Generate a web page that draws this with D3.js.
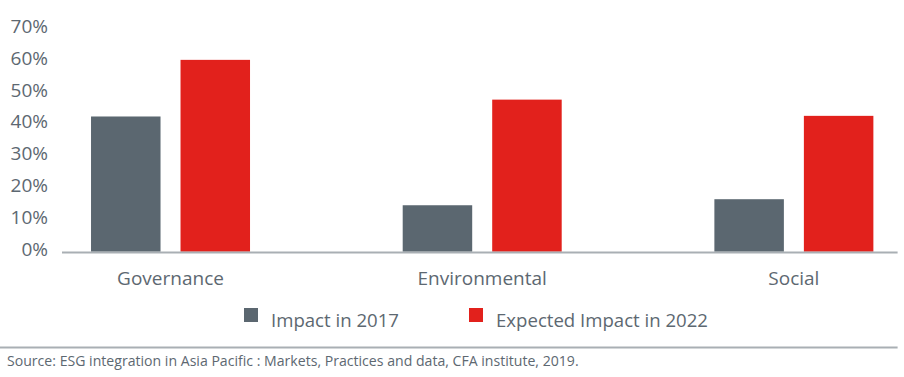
<!DOCTYPE html>
<html>
<head>
<meta charset="utf-8">
<script src="https://cdn.jsdelivr.net/npm/d3@7"></script>
<style>
  body { margin: 0; background: #fff; }
  text { font-family: "Open Sans", "Noto Sans", sans-serif; fill: #5d6871; }
</style>
</head>
<body>
<div id="chart"></div>
<script>
/* DATA */
const categories = ["Governance", "Environmental", "Social"];
const seriesNames = ["Impact in 2017", "Expected Impact in 2022"];
const impact2017 = [0.425, 0.146, 0.165];
const impact2022 = [0.603, 0.478, 0.427];
const yTicks = [0, 0.1, 0.2, 0.3, 0.4, 0.5, 0.6, 0.7];
const source = "Source: ESG integration in Asia Pacific : Markets, Practices and data, CFA institute, 2019.";

/* CONSTANTS */
const width = 904,
  height = 377,
  margin = { left: 62, right: 6, top: 29, baseline: 251.7 };
const colors = ["#5b6770", "#e2211c"];

const rows = categories.map((c, i) => ({
  category: c,
  values: [impact2017[i], impact2022[i]]
}));

const svg = d3.select("#chart")
  .append("svg")
  .attr("width", width)
  .attr("height", height);

// scales
const xScale = d3.scalePoint()
  .domain(categories)
  .range([65.8, 898.6])
  .padding(0.336);

const xSub = d3.scaleBand()
  .domain(seriesNames)
  .range([-79.5, 79.5])
  .paddingInner(0.2235);

const yScale = d3.scaleLinear()
  .domain([0, 0.7])
  .range([margin.baseline, margin.top]);

// bars
const groups = svg.selectAll("g.group")
  .data(rows)
  .join("g")
  .attr("class", "group")
  .attr("transform", d => `translate(${xScale(d.category)},0)`);

groups.selectAll("rect")
  .data(d => d.values.map((v, i) => ({ series: seriesNames[i], value: v, i })))
  .join("rect")
  .attr("x", d => xSub(d.series))
  .attr("width", xSub.bandwidth())
  .attr("y", d => yScale(d.value))
  .attr("height", d => yScale(0) - yScale(d.value))
  .attr("fill", d => colors[d.i]);

// y axis labels (no line, no ticks)
const yAxis = d3.axisLeft(yScale)
  .tickValues(yTicks)
  .tickFormat(d3.format(".0%"))
  .tickSize(0)
  .tickPadding(0);

svg.append("g")
  .attr("class", "y-axis")
  .attr("transform", "translate(48,-2.7)")
  .call(yAxis)
  .call(g => g.select(".domain").remove())
  .call(g => g.selectAll("text")
    .attr("font-size", 19)
    .attr("font-family", null)
    .attr("fill", "#5d6871"));

// x axis baseline
svg.append("line")
  .attr("x1", margin.left)
  .attr("x2", 897.6)
  .attr("y1", 252.5)
  .attr("y2", 252.5)
  .attr("stroke", "#a9afb4")
  .attr("stroke-width", 2);

// category labels
svg.selectAll("text.cat")
  .data(categories)
  .join("text")
  .attr("class", "cat")
  .attr("x", d => xScale(d))
  .attr("y", 284.5)
  .attr("text-anchor", "middle")
  .attr("font-size", 19)
  .text(d => d);

// legend
const legendX = [244, 469];
const legend = svg.selectAll("g.legend")
  .data(seriesNames)
  .join("g")
  .attr("class", "legend")
  .attr("transform", (d, i) => `translate(${legendX[i]},308)`);

legend.append("rect")
  .attr("width", 14)
  .attr("height", 14)
  .attr("fill", (d, i) => colors[i]);

legend.append("text")
  .attr("x", 27)
  .attr("y", 19)
  .attr("font-size", 18.6)
  .text(d => d);

// source line and note
svg.append("line")
  .attr("x1", 0)
  .attr("x2", 897.6)
  .attr("y1", 347.5)
  .attr("y2", 347.5)
  .attr("stroke", "#a9afb4")
  .attr("stroke-width", 2);

svg.append("text")
  .attr("x", 7)
  .attr("y", 366)
  .attr("font-size", 14.1)
  .text(source);
</script>
</body>
</html>
